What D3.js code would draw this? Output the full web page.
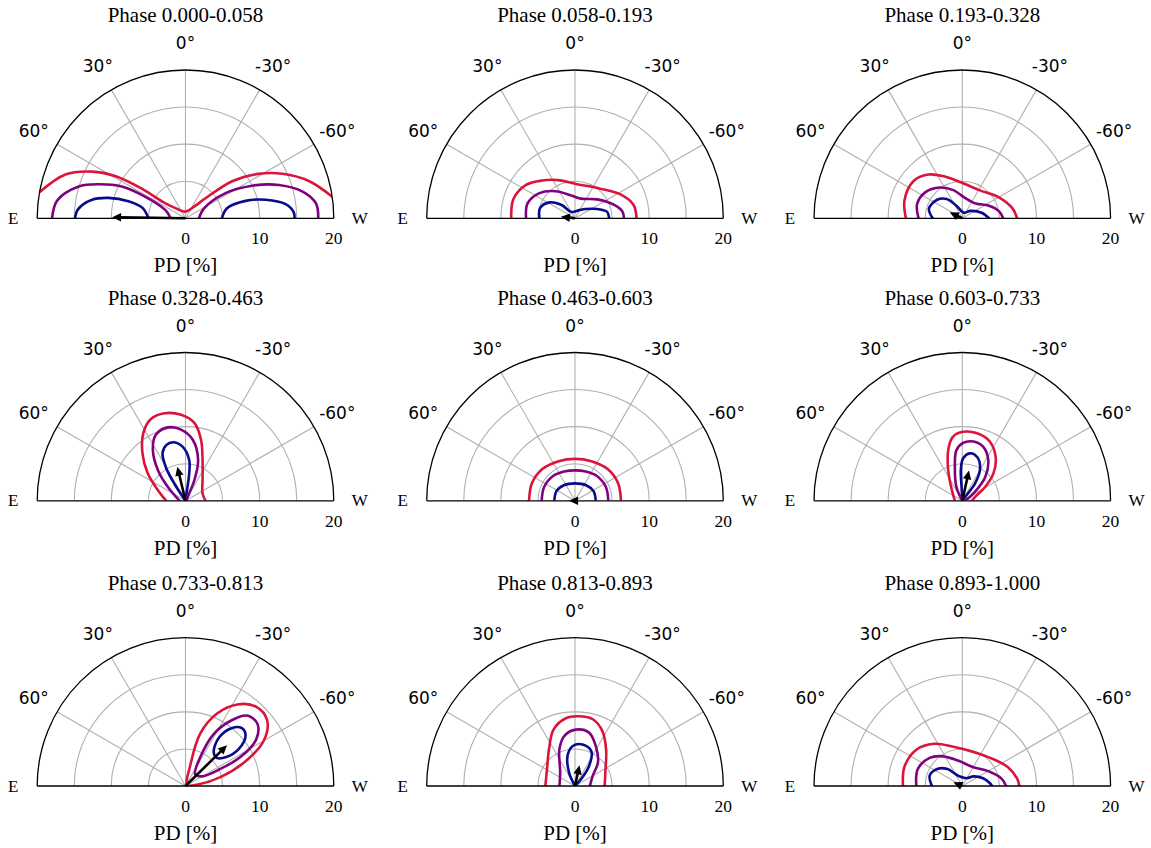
<!DOCTYPE html>
<html><head><meta charset="utf-8">
<script src="https://cdn.jsdelivr.net/npm/d3@7"></script>
<style>body{margin:0;background:#fff}svg{display:block}</style>
</head><body>
<script>
// ---- data ----
const titles = ["Phase 0.000-0.058","Phase 0.058-0.193","Phase 0.193-0.328",
  "Phase 0.328-0.463","Phase 0.463-0.603","Phase 0.603-0.733",
  "Phase 0.733-0.813","Phase 0.813-0.893","Phase 0.893-1.000"];
const angleTicks = [0, 30, -30, 60, -60];
const gridAngles = [-60, -30, 0, 30, 60];
const gridRadii = [5, 10, 15];
const radialTicks = [0, 10, 20];
const pdMax = 20;
// contours: [x (W positive), y (up)] in PD %, each panel = list of segments
const innerContours = [
  [[[-14.9,0],[-14.5,1.2],[-12.6,2.5],[-10.4,2.75],[-7.7,2.3],[-5.8,1.4],[-5.0,0]],
   [[4.9,0],[5.6,1.35],[8.1,2.35],[10.8,2.5],[13.5,1.9],[14.6,0.8],[14.7,0]]],
  [[[-4.8,0],[-4.7,1.4],[-3.4,2.15],[-1.8,1.8],[-0.5,0.85],[0.6,1.1],[1.4,1.25],[3.0,1.25],[4.3,0.9],[4.6,0]]],
  [[[-4.0,0],[-4.5,1.3],[-3.4,2.5],[-2.1,2.6],[-0.8,1.7],[0.2,0.75],[1.1,1.0],[2.6,0.75],[3.6,0]]],
  [[[0,0],[-1.5,2.3],[-2.6,4.4],[-3.1,6.4],[-2.6,7.5],[-1.7,7.9],[-0.4,7.3],[0.5,5.5],[0.5,3.7],[0.2,1.4],[0,0]]],
  [[[-2.8,0],[-2.5,1.3],[-1.5,2.1],[0,2.35],[1.5,2.1],[2.5,1.3],[2.8,0]]],
  [[[0,0],[-0.1,1.9],[-0.2,4.1],[0.1,5.7],[1.0,6.4],[2.0,5.9],[2.4,4.4],[1.7,2.3],[0.6,0.8],[0,0]]],
  [[[3.8,4.6],[4.5,6.5],[6.2,7.8],[7.6,7.8],[8.1,6.8],[7.2,5.0],[5.5,3.9],[4.2,3.8]]],
  [[[0,0],[-0.8,1.8],[-1.0,4.1],[-0.3,5.4],[1.0,5.6],[2.2,4.7],[1.9,2.7],[0.8,0.9],[0,0]]],
  [[[-4.1,0],[-4.4,1.4],[-3.4,2.3],[-2.0,2.3],[-0.6,1.4],[0.6,1.05],[1.5,1.3],[2.8,1.05],[3.7,0.4],[4.0,0]]]
];
const middleContours = [
  [[[-18.0,0],[-17.3,2.4],[-14.4,4.3],[-11.7,4.6],[-8.6,4.3],[-5.4,2.9],[-2.7,1.1],[-2.0,0]],
   [[1.8,0],[2.5,1.35],[5.4,3.4],[9.0,4.4],[12.6,4.5],[15.8,3.6],[17.6,2.0],[17.9,0]]],
  [[[-6.6,0],[-6.4,2.0],[-4.8,3.4],[-2.6,3.65],[-0.6,3.1],[0.8,2.65],[3.0,2.55],[5.3,1.8],[6.4,0.9],[6.6,0]]],
  [[[-5.9,0],[-6.1,1.9],[-5.0,3.5],[-3.0,4.15],[-1.2,3.8],[0.3,2.8],[1.8,2.0],[3.6,1.7],[5.0,0.9],[5.5,0]]],
  [[[-0.8,0],[-2.4,1.9],[-3.7,4.1],[-4.4,6.8],[-4.0,8.9],[-2.4,9.9],[-0.6,9.6],[1.0,8.2],[1.7,5.5],[1.2,2.8],[0.5,1.0],[0.1,0]]],
  [[[-4.5,0],[-4.15,1.9],[-2.95,3.35],[-1.45,3.95],[0,4.1],[1.45,3.95],[2.95,3.35],[4.15,1.9],[4.5,0]]],
  [[[0,0],[-0.8,1.9],[-1.0,4.6],[-0.8,6.8],[0.1,7.8],[1.5,8.0],[2.8,7.3],[3.5,5.5],[3.1,3.2],[1.7,1.2],[0.6,0.2],[0,0]]],
  [[[1.3,1.6],[2.0,3.9],[3.8,7.0],[6.1,8.8],[8.3,9.5],[9.7,8.4],[9.5,6.2],[7.4,3.9],[4.7,2.3],[2.2,1.3]]],
  [[[-2.1,0],[-2.0,1.8],[-2.1,5.0],[-1.4,6.8],[0.1,7.6],[1.9,7.2],[2.8,5.4],[3.1,3.2],[2.4,1.4],[2.0,0]]],
  [[[-6.2,0],[-6.0,2.3],[-4.4,3.8],[-2.6,4.0],[-0.5,3.4],[1.3,2.6],[3.5,2.0],[5.3,1.0],[5.9,0]]]
];
const outerContours = [
  [[[-19.7,3.5],[-16.2,5.9],[-12.6,6.3],[-9.5,5.7],[-5.9,4.0],[-2.7,2.0],[-1.2,1.3],[0,0.9],[1.2,1.6],[2.7,2.7],[6.3,5.0],[9.9,6.0],[13.1,6.0],[16.7,5.0],[19.8,2.9]]],
  [[[-8.6,0],[-8.3,2.6],[-6.6,4.5],[-4.4,5.1],[-2.3,5.15],[0.3,4.6],[3.4,4.0],[6.2,3.2],[7.9,1.8],[8.3,0]]],
  [[[-7.6,0],[-7.8,2.4],[-6.6,5.0],[-4.6,5.9],[-2.6,5.7],[-0.3,4.9],[2.3,3.8],[5.0,2.8],[6.8,1.3],[7.4,0]]],
  [[[-2.6,0],[-3.7,1.4],[-5.1,3.7],[-5.8,6.4],[-5.7,9.1],[-4.7,11.0],[-2.8,11.8],[-0.6,11.6],[1.2,10.5],[2.1,8.2],[2.3,5.5],[2.3,2.8],[2.3,1.0],[2.7,0]]],
  [[[-6.2,0],[-5.8,2.4],[-4.4,4.3],[-2.2,5.35],[0,5.65],[2.2,5.35],[4.4,4.3],[5.8,2.4],[6.2,0]]],
  [[[-1.0,0],[-1.4,1.4],[-1.9,4.1],[-1.9,6.8],[-1.3,8.6],[0.1,9.3],[2.0,9.1],[3.7,8.0],[4.5,5.9],[4.2,3.7],[3.1,1.9],[1.7,0.5],[1.3,0]]],
  [[[0.2,0.1],[0.6,2.6],[2.0,7.1],[4.3,9.8],[7.0,11.0],[9.5,10.7],[11.0,8.9],[10.6,6.2],[8.3,3.5],[4.7,1.2],[1.1,0.1]]],
  [[[-4.0,0],[-3.8,2.0],[-3.5,5.0],[-2.9,7.6],[-1.3,9.1],[0.5,9.4],[2.4,9.0],[3.7,7.4],[4.2,4.8],[4.1,2.0],[4.0,0]]],
  [[[-8.0,0],[-7.8,2.6],[-6.2,4.9],[-3.8,5.7],[-1.2,5.3],[1.5,4.6],[4.0,3.7],[6.2,2.5],[7.4,1.0],[7.7,0]]]
];
const closedPanels = [false,false,false,false,false,false,true,false,false];
const arrowTips = [[-9.9,0.15],[-1.9,0.2],[-1.7,0.8],[-1.1,4.6],[-0.8,0],[0.9,4.1],[5.6,5.5],[0.6,2.8],[-1.2,0.5]];
const levelColors = ["#0a0a8c", "#800080", "#dc143c"];

// ---- layout ----
const W = 1151, H = 848;
const centersX = [185.5, 575, 962.3];
const centersY = [218.3, 500.8, 786];
const R = 148.3;
const serif = "'Liberation Serif','Times New Roman',serif";
const sans = "'DejaVu Sans',sans-serif";

const svg = d3.select("body").append("svg").attr("width", W).attr("height", H);
svg.append("rect").attr("width", W).attr("height", H).attr("fill", "#fff");

const rScale = d3.scaleLinear().domain([0, pdMax]).range([0, R]);

titles.forEach((title, i) => {
  const cx = centersX[i % 3], cy = centersY[Math.floor(i / 3)];
  const g = svg.append("g").attr("transform", `translate(${cx},${cy})`);
  const xS = d3.scaleLinear().domain([-pdMax, pdMax]).range([-R, R]);
  const yS = d3.scaleLinear().domain([0, pdMax]).range([0, -R]);
  const rad = a => a * Math.PI / 180;

  const clipId = "clip" + i;
  g.append("clipPath").attr("id", clipId).append("path")
    .attr("d", d3.arc()({innerRadius: 0, outerRadius: R, startAngle: -Math.PI/2, endAngle: Math.PI/2}));

  gridRadii.forEach(r => {
    g.append("path").attr("d", d3.arc()({innerRadius: rScale(r), outerRadius: rScale(r), startAngle: -Math.PI/2, endAngle: Math.PI/2}))
      .attr("fill", "none").attr("stroke", "#b0b0b0").attr("stroke-width", 1.1);
  });
  gridAngles.forEach(a => {
    const t = rad(-a);
    g.append("line").attr("x1", 0).attr("y1", 0)
      .attr("x2", R * Math.sin(t)).attr("y2", -R * Math.cos(t))
      .attr("stroke", "#b0b0b0").attr("stroke-width", 1.1);
  });

  const lineOpen = d3.line().x(d => xS(d[0])).y(d => yS(d[1])).curve(d3.curveCatmullRom.alpha(0.5));
  const lineClosed = d3.line().x(d => xS(d[0])).y(d => yS(d[1])).curve(d3.curveCatmullRomClosed.alpha(0.5));
  const cg = g.append("g").attr("clip-path", `url(#${clipId})`);
  [innerContours, middleContours, outerContours].forEach((set, li) => {
    set[i].forEach(seg => {
      cg.append("path").attr("d", (closedPanels[i] ? lineClosed : lineOpen)(seg))
        .attr("fill", "none").attr("stroke", levelColors[li]).attr("stroke-width", 2.6)
        .attr("stroke-linejoin", "round").attr("stroke-linecap", "round");
    });
  });

  g.append("path").attr("d", d3.arc()({innerRadius: R, outerRadius: R, startAngle: -Math.PI/2, endAngle: Math.PI/2}))
    .attr("fill", "none").attr("stroke", "#000").attr("stroke-width", 1.3);
  g.append("line").attr("x1", -R).attr("x2", R).attr("y1", 0).attr("y2", 0)
    .attr("stroke", "#000").attr("stroke-width", 1.3);

  const tip = arrowTips[i];
  const tx = xS(tip[0]), ty = yS(tip[1]);
  const len = Math.hypot(tx, ty);
  const ux = tx / len, uy = ty / len;
  const headL = 9, headW = 4.2;
  const bx = tx - ux * headL, by = ty - uy * headL;
  if (len > headL) {
    g.append("line").attr("x1", 0).attr("y1", 0).attr("x2", bx + ux * 1).attr("y2", by + uy * 1)
      .attr("stroke", "#000").attr("stroke-width", 2.6);
  }
  g.append("path").attr("d", `M${tx},${ty}L${bx - uy * headW},${by + ux * headW}L${bx + uy * headW},${by - ux * headW}Z`)
    .attr("fill", "#000");

  angleTicks.forEach(a => {
    const t = rad(-a);
    const lr = R + 27;
    g.append("text").attr("x", lr * Math.sin(t)).attr("y", -lr * Math.cos(t))
      .attr("text-anchor", "middle").attr("dominant-baseline", "central")
      .attr("font-family", sans).attr("font-size", 17).text(a + "°");
  });
  g.append("text").attr("x", -R - 24).attr("y", 0).attr("dominant-baseline", "central")
    .attr("text-anchor", "middle").attr("font-family", serif).attr("font-size", 17).text("E");
  g.append("text").attr("x", R + 26).attr("y", 0).attr("dominant-baseline", "central")
    .attr("text-anchor", "middle").attr("font-family", serif).attr("font-size", 17).text("W");
  radialTicks.forEach(r => {
    g.append("text").attr("x", rScale(r)).attr("y", 20).attr("dominant-baseline", "central")
      .attr("text-anchor", "middle").attr("font-family", serif).attr("font-size", 17.5).text(r);
  });
  g.append("text").attr("x", 0).attr("y", 47).attr("dominant-baseline", "central")
    .attr("text-anchor", "middle").attr("font-family", serif).attr("font-size", 21).text("PD [%]");
  g.append("text").attr("x", 0).attr("y", -203).attr("dominant-baseline", "central")
    .attr("text-anchor", "middle").attr("font-family", serif).attr("font-size", 21).text(title);
});
</script>
</body></html>
